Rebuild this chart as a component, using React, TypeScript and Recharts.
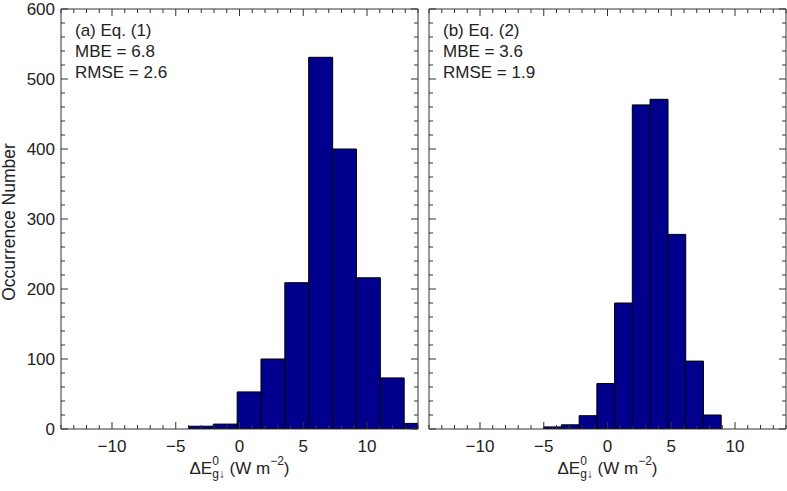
import React from 'react';
import { BarChart, Bar, XAxis, YAxis } from 'recharts';

// bin centres and counts
const binsA = [-2.99, -1.12, 0.75, 2.62, 4.49, 6.36, 8.23, 10.1, 11.97, 13.84];
const countsA = [4, 7, 53, 100, 209, 531, 400, 216, 73, 8];
const binsB = [-4.31, -2.92, -1.53, -0.14, 1.25, 2.64, 4.03, 5.42, 6.81, 8.2];
const countsB = [3, 6, 19, 65, 180, 463, 471, 278, 97, 20];

const notesA = ['(a) Eq. (1)', 'MBE = 6.8', 'RMSE = 2.6'];
const notesB = ['(b) Eq. (2)', 'MBE = 3.6', 'RMSE = 1.9'];

const xTicks = [-14, -13, -12, -11, -10, -9, -8, -7, -6, -5, -4, -3, -2, -1, 0, 1, 2, 3, 4, 5, 6, 7, 8, 9, 10, 11, 12, 13, 14];
const xLabelTicks = [-10, -5, 0, 5, 10];
const yTicks = [0, 20, 40, 60, 80, 100, 120, 140, 160, 180, 200, 220, 240, 260, 280, 300, 320, 340, 360, 380, 400, 420, 440, 460, 480, 500, 520, 540, 560, 580, 600];
const yLabelTicks = [0, 100, 200, 300, 400, 500, 600];

const FONT = "'Liberation Sans', Arial, Helvetica, sans-serif";
const AXIS = '#333';
const NAVY = '#00008c';
const MAJOR = 7;
const MINOR = 4;

const fmt = (v: number) => (v < 0 ? '\u2212' + Math.abs(v) : String(v));

const makeXTick = (side: 'bottom' | 'top', labels: boolean) => (props: any) => {
  const { x, y, payload } = props;
  const v = payload.value;
  const major = xLabelTicks.includes(v);
  const len = major ? MAJOR : MINOR;
  const dir = side === 'bottom' ? -1 : 1;
  return (
    <g>
      <line x1={x} y1={y} x2={x} y2={y + dir * len} stroke={AXIS} strokeWidth={1} />
      {labels && major && (
        <text x={x} y={y + 23} textAnchor="middle" fontFamily={FONT} fontSize={17} fill="#222">
          {fmt(v)}
        </text>
      )}
    </g>
  );
};

const makeYTick = (side: 'left' | 'right', labels: boolean) => (props: any) => {
  const { x, y, payload } = props;
  const v = payload.value;
  const major = yLabelTicks.includes(v);
  const len = major ? MAJOR : MINOR;
  const dir = side === 'left' ? 1 : -1;
  return (
    <g>
      <line x1={x} y1={y} x2={x + dir * len} y2={y} stroke={AXIS} strokeWidth={1} />
      {labels && major && (
        <text x={x - 6} y={y + 6} textAnchor="end" fontFamily={FONT} fontSize={17} fill="#222">
          {v}
        </text>
      )}
    </g>
  );
};

const XTitle = (props: any) => {
  const { viewBox } = props;
  const cx = viewBox.x + viewBox.width / 2;
  const base = viewBox.y + 45;
  return (
    <text x={cx} y={base} textAnchor="middle" fontFamily={FONT} fontSize={17} fill="#222">
      ΔE
      <tspan fontSize={12} dy={-9}>0</tspan>
      <tspan fontSize={12} dx={-6.7} dy={13}>g↓</tspan>
      <tspan dy={-4}> (W m</tspan>
      <tspan fontSize={12} dy={-9}>−2</tspan>
      <tspan dy={9}>)</tspan>
    </text>
  );
};

function Panel({ bins, counts, notes, width, margin, yLabels, yWidth }: any) {
  const data = bins.map((x: number, i: number) => ({ x, count: counts[i] }));
  return (
    <BarChart
      width={width}
      height={491}
      data={data}
      margin={margin}
      barCategoryGap={0}
      barGap={0}
    >
      <XAxis
        dataKey="x"
        type="number"
        domain={[-14, 14]}
        ticks={xTicks}
        interval={0}
        allowDataOverflow
        height={62}
        tickSize={0}
        tickMargin={0}
        tickLine={false}
        axisLine={{ stroke: AXIS }}
        tick={makeXTick('bottom', true)}
        label={<XTitle />}
      />
      <XAxis
        xAxisId="top"
        orientation="top"
        dataKey="x"
        type="number"
        domain={[-14, 14]}
        ticks={xTicks}
        interval={0}
        allowDataOverflow
        height={1}
        tickSize={0}
        tickMargin={0}
        tickLine={false}
        axisLine={{ stroke: AXIS }}
        tick={makeXTick('top', false)}
      />
      <YAxis
        type="number"
        domain={[0, 600]}
        ticks={yTicks}
        interval={0}
        allowDataOverflow
        width={yWidth}
        tickSize={0}
        tickMargin={0}
        tickLine={false}
        axisLine={{ stroke: AXIS }}
        tick={makeYTick('left', yLabels)}
      />
      <YAxis
        yAxisId="right"
        orientation="right"
        type="number"
        domain={[0, 600]}
        ticks={yTicks}
        interval={0}
        allowDataOverflow
        width={1}
        tickSize={0}
        tickMargin={0}
        tickLine={false}
        axisLine={{ stroke: AXIS }}
        tick={makeYTick('right', false)}
      />
      <Bar dataKey="count" fill={NAVY} stroke="#000" strokeWidth={1} isAnimationActive={false} />
      {notes.map((t: string, i: number) => (
        <text
          key={t}
          x={(margin.left || 0) + yWidth + 14}
          y={36 + i * 21}
          fontFamily={FONT}
          fontSize={17}
          fill="#222"
        >
          {t}
        </text>
      ))}
    </BarChart>
  );
}

export default function App() {
  return (
    <div style={{ position: 'absolute', left: 0, top: 0, width: 787, height: 491, background: '#fff' }}>
      <div style={{ position: 'absolute', left: 0, top: 0 }}>
        <Panel
          bins={binsA}
          counts={countsA}
          notes={notesA}
          width={419}
          margin={{ top: 8, right: 0, bottom: 0, left: 0 }}
          yLabels
          yWidth={61}
        />
        <svg style={{ position: 'absolute', left: 0, top: 0, pointerEvents: 'none' }} width={30} height={491}>
          <text
            x={15}
            y={222}
            transform="rotate(-90 15 222)"
            textAnchor="middle"
            fontFamily={FONT}
            fontSize={17.5}
            fill="#222"
          >
            Occurrence Number
          </text>
        </svg>
      </div>
      <div style={{ position: 'absolute', left: 420, top: 0 }}>
        <Panel
          bins={binsB}
          counts={countsB}
          notes={notesB}
          width={367}
          margin={{ top: 8, right: 0, bottom: 0, left: 8 }}
          yLabels={false}
          yWidth={1}
        />
      </div>
    </div>
  );
}
